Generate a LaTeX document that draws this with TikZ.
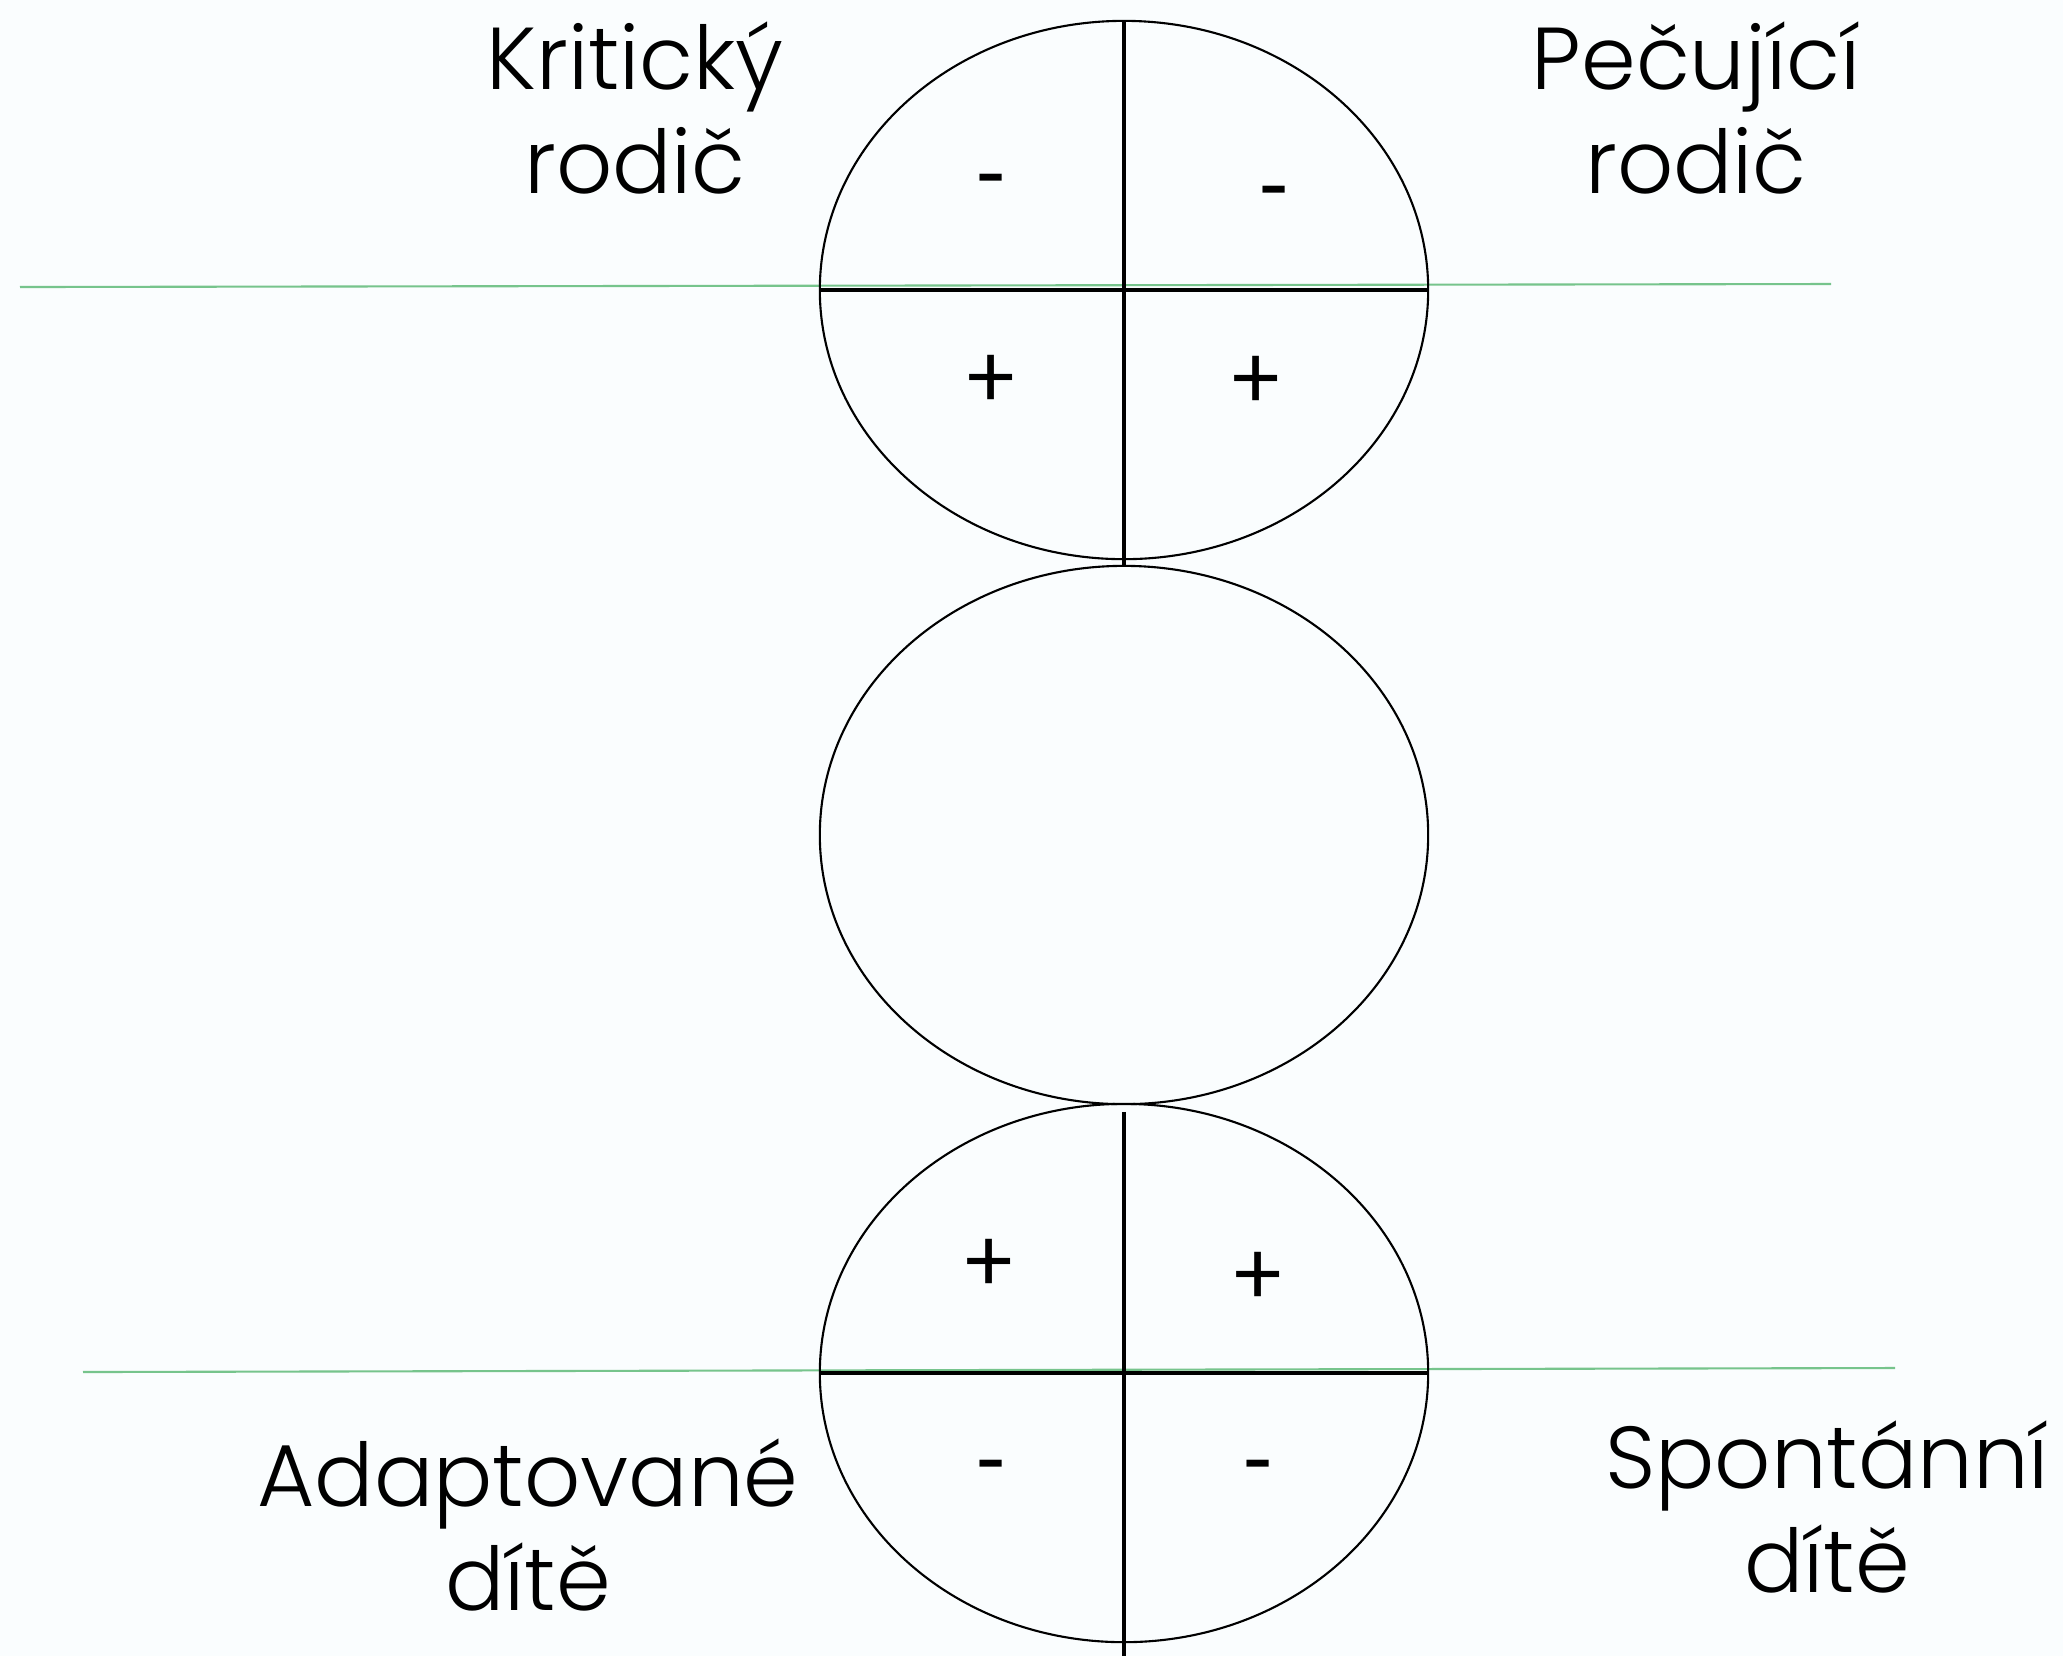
\documentclass[tikz,border=0pt]{standalone}
\usepackage{fontspec}
\usepackage{tikz}
\usetikzlibrary{positioning, shapes.geometric}
\newfontfamily\rolefont{Poppins Light}
\newfontfamily\signfont{Carlito}
\definecolor{guidegreen}{RGB}{118,196,140}
\definecolor{paper}{RGB}{250,253,254}

\begin{document}
\begin{tikzpicture}[x=0.01cm, y=-0.01cm,
		ego/.style={draw, ellipse, minimum width=6.08cm, minimum height=5.38cm, inner sep=0pt, outer sep=0pt, line width=0.6pt},
		axis/.style={line width=0.9pt},
		split/.style={line width=1.3pt},
		guide/.style={draw=guidegreen, line width=0.6pt},
		sign/.style={font=\signfont\fontsize{27}{30}\selectfont, text height=17.3pt, text depth=0pt, inner sep=0pt},
		role/.style={font=\rolefont\fontsize{25}{29.5}\selectfont, align=center, inner sep=0pt, anchor=base}]
	
	% Background and page size
	\fill[paper] (0,0) rectangle (2063,1656);
	\useasboundingbox (0,0) rectangle (2063,1656);
	
	% Guide lines (green)
	\coordinate (pl) at (20,287);
	\coordinate (pr) at (1831,284);
	\coordinate (cl) at (83,1372);
	\coordinate (cr) at (1895,1368);
	\draw[guide] (pl) -- (pr);
	\draw[guide] (cl) -- (cr);
	
	% The three ego states
	\node[ego] (parent) at (1124,290) {};
	\node[ego] (adult) at (1124,835) {};
	\node[ego] (child) at (1124,1373) {};
	
	% Quadrant lines
	\draw[split] (parent.west) -- (parent.east);
	\draw[axis] (parent.north) -- (adult.north);
	\draw[split] (child.west) -- (child.east);
	\coordinate (bottom) at (1124,1656);
	\draw[axis] ([yshift=-0.08cm]child.north) -- (bottom);
	
	% Signs
	\node[sign] (p1) at (991,174) {-};
	\node[sign] (p2) at (1274,186) {-};
	\node[sign] (p3) at (991,377) {+};
	\node[sign] (p4) at (1256,378) {+};
	\node[sign] (c1) at (989,1261) {+};
	\node[sign] (c2) at (1258,1274) {+};
	\node[sign] (c3) at (991,1460) {-};
	\node[sign] (c4) at (1258,1460) {-};
	
	% Labels (anchor is the baseline of the second line)
	\node[role] (critical) at (635,193) {Kritický\\rodič};
	\node[role] (nurturing) at (1696,193) {Pečující\\rodič};
	\node[role] (adapted) at (528,1610) {Adaptované\\dítě};
	\node[role] (free) at (1827,1592) {Spontánní\\dítě};
	
\end{tikzpicture}
\end{document}
